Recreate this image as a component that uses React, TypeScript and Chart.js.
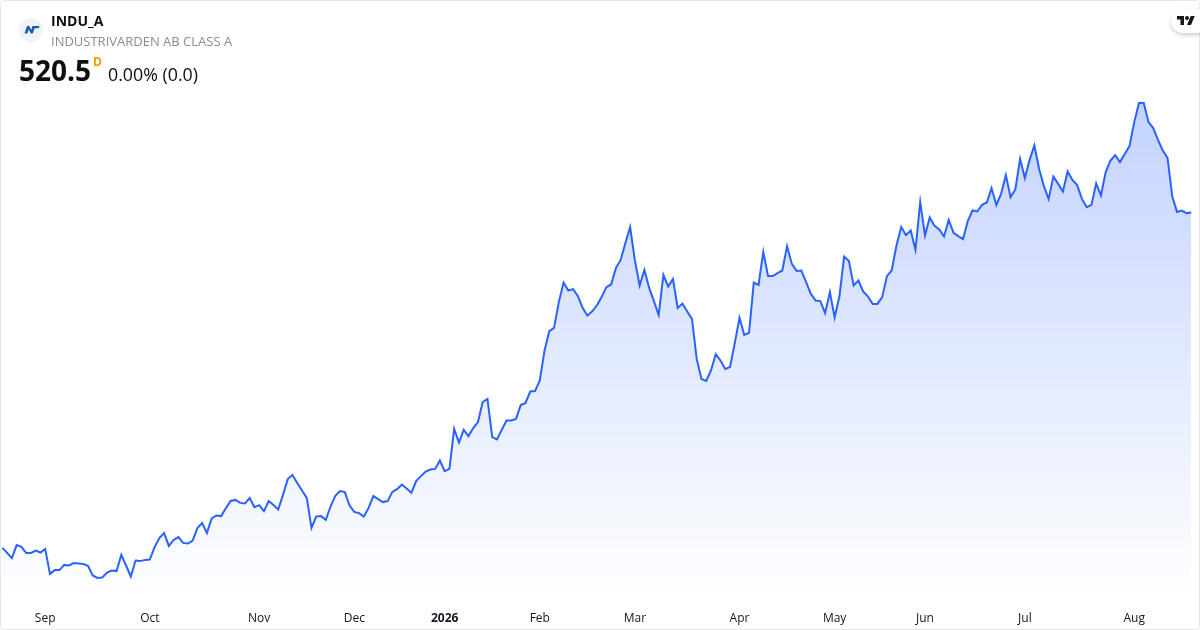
import React, { useEffect, useRef } from "react";
import { Chart, registerables } from "chart.js";

Chart.register(...registerables);

const symbol = "INDU_A";
const companyName = "INDUSTRIVARDEN AB CLASS A";
const lastPrice = "520.5";
const changeText = "0.00% (0.0)";

const closeValues: number[] = [
  352.8, 350.3, 347.7, 354.2, 353.3, 350.2, 350.3, 351.5, 350.5, 352.3,
  339.8, 341.7, 341.7, 344.3, 344.0, 345.2, 345.0, 344.7, 343.8, 339.0,
  337.8, 338.0, 340.5, 341.5, 341.2, 349.3, 344.0, 338.5, 346.5, 346.2,
  346.8, 347.0, 353.2, 357.7, 360.2, 353.8, 356.8, 358.2, 355.3, 355.0,
  356.5, 362.7, 365.2, 360.2, 367.5, 369.0, 368.7, 372.7, 376.3, 376.8,
  375.3, 375.0, 377.7, 373.2, 374.2, 371.2, 376.2, 374.2, 372.0, 379.3,
  387.2, 389.2, 385.3, 381.5, 377.8, 362.8, 368.5, 368.7, 366.8, 373.5,
  378.8, 381.2, 380.7, 374.0, 370.8, 370.2, 368.5, 372.8, 378.7, 377.2,
  375.7, 376.2, 380.8, 382.2, 384.5, 382.5, 380.3, 386.2, 388.7, 391.0,
  392.0, 392.3, 396.5, 391.2, 392.3, 412.3, 405.5, 411.8, 408.7, 412.7,
  415.7, 425.7, 427.3, 408.2, 407.0, 411.8, 416.5, 416.5, 417.3, 424.2,
  425.3, 431.0, 431.2, 436.5, 451.5, 461.2, 462.8, 475.7, 485.5, 481.5,
  482.2, 478.8, 472.8, 469.0, 471.0, 474.0, 478.2, 483.2, 484.5, 492.7,
  496.8, 505.3, 513.2, 496.5, 484.0, 491.8, 482.8, 476.2, 469.2, 489.3,
  483.5, 487.2, 472.8, 475.0, 471.0, 467.3, 447.3, 437.3, 436.3, 441.5,
  449.7, 446.5, 442.3, 443.2, 455.2, 467.8, 459.3, 460.3, 485.5, 484.3,
  500.8, 488.7, 488.7, 490.2, 491.5, 503.7, 494.8, 491.3, 491.5, 485.7,
  479.8, 476.5, 476.2, 470.2, 480.7, 468.0, 478.5, 498.5, 496.2, 484.0,
  486.5, 481.0, 478.5, 474.8, 474.8, 478.2, 488.7, 491.5, 504.0, 513.2,
  509.2, 511.5, 501.8, 525.7, 509.0, 518.0, 513.8, 512.0, 508.5, 516.8,
  510.3, 508.7, 507.2, 516.2, 521.5, 521.0, 524.3, 525.5, 532.7, 524.3,
  529.8, 539.2, 528.2, 532.0, 547.3, 537.8, 546.8, 554.0, 542.3, 533.7,
  527.3, 538.5, 534.8, 531.0, 541.0, 536.8, 534.2, 527.3, 523.2, 524.3,
  535.0, 529.0, 540.7, 546.5, 549.2, 545.7, 549.8, 553.7, 565.7, 575.2,
  575.2, 565.7, 562.7, 556.8, 551.5, 547.8, 528.5, 520.8, 521.5, 520.2,
  520.5,
];

const tickPositions: number[] = [9, 31, 54, 74, 93, 113, 133, 155, 175, 194, 215, 238];
const tickLabels: string[] = ["Sep", "Oct", "Nov", "Dec", "2026", "Feb", "Mar", "Apr", "May", "Jun", "Jul", "Aug"];
const boldTickLabel = "2026";

const FONT = '"Open Sans", sans-serif';

export default function App() {
  const ref = useRef<HTMLCanvasElement | null>(null);

  useEffect(() => {
    if (!ref.current) return;
    const chart = new Chart(ref.current, {
      type: "line",
      data: {
        labels: closeValues.map((_, i) => String(i)),
        datasets: [
          {
            data: closeValues,
            borderColor: "#2962FF",
            borderWidth: 2,
            pointRadius: 0,
            tension: 0,
            fill: "start",
            backgroundColor: (ctx: any) => {
              const g = ctx.chart.ctx.createLinearGradient(0, 103, 0, 600);
              g.addColorStop(0, "rgba(41,98,255,0.28)");
              g.addColorStop(1, "rgba(41,98,255,0)");
              return g;
            },
          },
        ],
      },
      options: {
        animation: false,
        responsive: false,
        devicePixelRatio: 1,
        layout: { padding: { left: 2.4, right: 8.7, top: 0, bottom: 0 } },
        plugins: { legend: { display: false }, tooltip: { enabled: false } },
        scales: {
          y: { display: false, min: 326.75, max: 626.75 },
          x: {
            offset: false,
            grid: { display: false },
            border: { display: false },
            afterFit: (s: any) => {
              s.height = 30;
            },
            ticks: {
              autoSkip: false,
              maxRotation: 0,
              minRotation: 0,
              padding: 3,
              color: "#131722",
              font: (ctx: any) => ({
                family: FONT,
                size: 12,
                weight: ctx.tick && ctx.tick.label === boldTickLabel ? "bold" : "normal",
              }),
              callback: (_v: any, i: number) => {
                const k = tickPositions.indexOf(i);
                return k >= 0 ? tickLabels[k] : null;
              },
            },
          },
        },
      } as any,
    });
    return () => chart.destroy();
  }, []);

  return (
    <div style={{ position: "relative", width: 1200, height: 630, overflow: "hidden", background: "#fff", fontFamily: FONT, color: "#0f0f0f" }}>
      <style>{`body{margin:0}`}</style>
      <canvas ref={ref} width={1200} height={630} style={{ position: "absolute", left: 0, top: 0, width: 1200, height: 630 }} />
      <div style={{ position: "absolute", inset: 0, boxSizing: "border-box", border: "1px solid #e6e7ea", borderRadius: 4, pointerEvents: "none" }} />
      <svg width={24} height={24} viewBox="0 0 24 24" style={{ position: "absolute", left: 19, top: 18 }}>
        <circle cx={12} cy={12} r={12} fill="#f0f3fa" />
        <path d="M5.5 15.5 L8 8 L10.2 8 L12.2 12 L13.4 8 L20.5 8 L19.8 10.2 L15.6 10.2 L13.8 15.5 L11.8 15.5 L9.7 11.4 L8.3 15.5 Z" fill="#1a5da8" />
      </svg>
      <div style={{ position: "absolute", left: 51, top: 11, fontSize: 14, lineHeight: "20px", fontWeight: 700, whiteSpace: "nowrap" }}>{symbol}</div>
      <div style={{ position: "absolute", left: 51, top: 32, fontSize: 13, lineHeight: "18px", color: "#8a8d96", whiteSpace: "nowrap" }}>{companyName}</div>
      <div style={{ position: "absolute", left: 19, top: 51, fontSize: 28, lineHeight: "38px", fontWeight: 700, whiteSpace: "nowrap" }}>{lastPrice}</div>
      <div style={{ position: "absolute", left: 93, top: 54, fontSize: 12, lineHeight: "16px", fontWeight: 700, color: "#ff9800" }}>D</div>
      <div style={{ position: "absolute", left: 108, top: 61, fontSize: 17.8, lineHeight: "26px", whiteSpace: "nowrap" }}>{changeText}</div>
      <div style={{ position: "absolute", left: 1171, top: 9, width: 40, height: 24, borderRadius: 12, background: "#fff", boxShadow: "0 2px 4px rgba(0,0,0,0.2)" }} />
      <svg width={18} height={14} viewBox="0 0 36 28" style={{ position: "absolute", left: 1177, top: 14 }}>
        <path d="M14 22H7V11H0V4h14v18zM28 22h-8l7.5-18h8L28 22z" fill="#131722" />
        <circle cx={20} cy={8} r={4} fill="#131722" />
      </svg>
    </div>
  );
}
